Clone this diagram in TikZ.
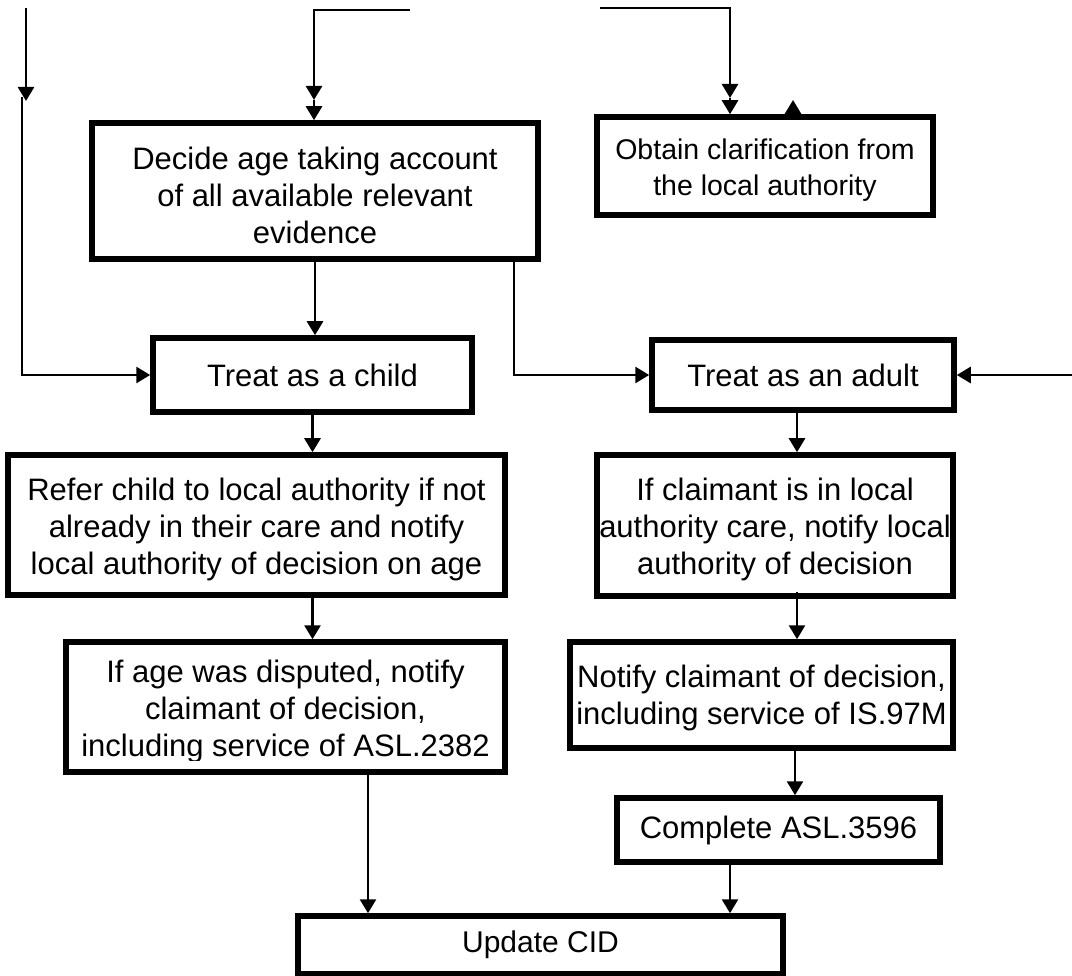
\documentclass[tikz,border=0pt]{standalone}
\usepackage{fontspec}
\setmainfont{Liberation Sans}
\usetikzlibrary{arrows.meta}
\begin{document}
\begin{tikzpicture}[x=1pt,y=-1pt,
  box/.style={draw, line width=5.5pt, rectangle, inner sep=0pt, align=center,
    font=\fontsize{31}{37}\selectfont},
  txt/.style={inner sep=0pt, align=center, font=\fontsize{31}{37}\selectfont},
  arr/.style={line width=2.6pt, -{Triangle[length=14pt,width=16pt]}},
  ln/.style={line width=2.6pt}]
\useasboundingbox[fill=white] (0,0) rectangle (1072,976);

% boxes
\node[box, minimum width=446pt, minimum height=136pt] (decide) at (315,191) {};
\node[txt] (decidetext) at ([yshift=-4pt]decide.center)
  {Decide age taking account\\of all available relevant\\evidence};
\node[box, minimum width=336pt, minimum height=98pt] (obtain) at (765,166) {};
\node[txt, font=\fontsize{28.5}{36}\selectfont] (obtaintext) at ([yshift=-4pt]obtain.center)
  {Obtain clarification from\\the local authority};
\node[box, minimum width=319pt, minimum height=74pt] (child) at (312.5,375)
  {Treat as a child};
\node[box, minimum width=302pt, minimum height=70pt] (adult) at (803,375)
  {Treat as an adult};
\node[box, minimum width=497pt, minimum height=140pt] (refer) at (256.5,525) {};
\node[txt] (refertext) at ([yshift=-4pt]refer.center)
  {Refer child to local authority if not\\already in their care and notify\\local authority of decision on age};
\node[box, minimum width=356pt, minimum height=141pt] (claim) at (775,525.5) {};
\node[txt] (claimtext) at ([yshift=-4pt]claim.center)
  {If claimant is in local\\authority care, notify local\\authority of decision};
\node[box, minimum width=439pt, minimum height=130pt] (ifage) at (285.5,707) {};
\begin{scope}
  \clip (0,0) rectangle (1072,760);
  \node[txt] (ifagetext) at ([yshift=-4pt]ifage.center)
    {If age was disputed, notify\\claimant of decision,\\including service of ASL.2382};
\end{scope}
\node[box, minimum width=383pt, minimum height=106pt] (notify) at (761.5,695) {};
\node[txt] (notifytext) at ([yshift=-3pt]notify.center)
  {Notify claimant of decision,\\including service of IS.97M};
\node[box, minimum width=323pt, minimum height=64pt] (complete) at (778.5,830)
  {Complete ASL.3596};
\node[box, minimum width=485pt, minimum height=58pt] (update) at (540.5,945)
  {\fontsize{30}{36}\selectfont Update CID};

% free ends
\coordinate (tlA) at (26,8);
\coordinate (tlAend) at (26,101);
\coordinate (tlB) at (22,97);
\coordinate (tmA) at (410,10);
\coordinate (tmMid) at (314,100);
\coordinate (trA) at (600,8);
\coordinate (trMid) at (730,98);
\coordinate (upEnd) at (793,100);
\coordinate (rin) at (1072,375);

% connectors
\draw[arr] (tlA) -- (tlAend);
\draw[arr] (tlB) |- (child.west);
\draw[arr] (tmA) -| (tmMid);
\draw[arr] (tmMid) -- (tmMid |- decide.north);
\draw[arr] (trA) -| (trMid);
\draw[arr] (trMid) -- (trMid |- obtain.north);
\draw[arr] ([xshift=28pt]obtain.north) -- (upEnd);
\draw[arr] (decide.south) -- (decide.south |- child.north);
\draw[arr] ([xshift=199pt]decide.south) |- (adult.west);
\draw[arr] (rin) -- (adult.east);
\draw[arr] (child.south) -- (child.south |- refer.north);
\draw[arr] ([xshift=-6pt]adult.south) -- ([xshift=-6pt]adult.south |- claim.north);
\draw[arr] (child.south |- refer.south) -- (child.south |- ifage.north);
\draw[arr] ([xshift=22pt,yshift=7pt]claim.south) -- ([xshift=22pt]claim.south |- notify.north);
\draw[arr] ([xshift=33.5pt]notify.south) -- ([xshift=33.5pt]notify.south |- complete.north);
\draw[arr] ([xshift=-48.5pt]complete.south) -- ([xshift=-48.5pt]complete.south |- update.north);
\draw[arr] ([xshift=82.5pt]ifage.south) -- ([xshift=82.5pt]ifage.south |- update.north);
\end{tikzpicture}
\end{document}
